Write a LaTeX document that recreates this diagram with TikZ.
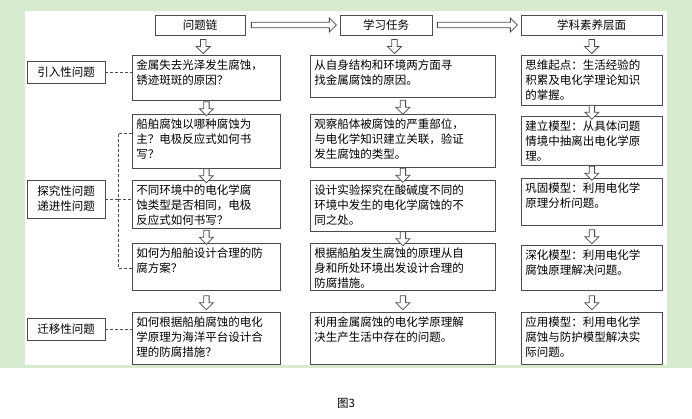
\documentclass[tikz,border=0pt]{standalone}
\usepackage{fontspec}
\setmainfont{Noto Sans CJK SC}
\usetikzlibrary{shapes.arrows}
\definecolor{panelgreen}{RGB}{214,235,208}

\begin{document}
\begin{tikzpicture}[
    x=1pt, y=-1pt,
    font=\fontsize{11.5}{15}\selectfont,
    box/.style={draw=black!70, thick, anchor=north west, align=left, inner sep=4pt, text height=10pt},
    head/.style={draw=black!70, thick, minimum height=20pt, inner sep=2pt},
    downarrow/.style={single arrow, draw=black!70, fill=white, thick, shape border rotate=270,
      minimum width=14pt, single arrow head extend=3pt, single arrow head indent=0pt, minimum height=14pt, inner sep=1.5pt},
    rightarrow/.style={single arrow, draw=black!70, fill=white, thick,
      single arrow head extend=3pt, inner sep=1.5pt},
    link/.style={densely dashed, black!70}
  ]

  % Background
  \useasboundingbox (0,0) rectangle (692,419);
  \fill[panelgreen] (0,0) rectangle (692,368);
  \fill[white] (25,11) rectangle (667,365);
  \fill[white] (0,368) rectangle (692,419);

  % Column heads
  \node[head, minimum width=90pt] (chain) at (200,25) {问题链};
  \node[head, minimum width=92pt] (task) at (386,25) {学习任务};
  \node[head, minimum width=141pt] (level) at (591.5,25) {学科素养层面};
  \node[rightarrow, minimum width=14pt, minimum height=85pt] at (292.5,25) {};
  \node[rightarrow, minimum width=14pt, minimum height=80pt] at (476,25) {};

  % Question chain
  \node[box, text width=140pt, text depth=27pt] (q1) at (132,55) {金属失去光泽发生腐蚀，\\锈迹斑斑的原因？};
  \node[box, text width=140pt, text depth=36pt] (q2) at (132,114) {船舶腐蚀以哪种腐蚀为\\主？电极反应式如何书\\写？};
  \node[box, text width=140pt, text depth=30pt] (q3) at (132,180) {不同环境中的电化学腐\\蚀类型是否相同，电极\\反应式如何书写？};
  \node[box, text width=140pt, text depth=29pt] (q4) at (132,243) {如何为船舶设计合理的防\\腐方案？};
  \node[box, text width=140pt, text depth=34pt] (q5) at (132,312) {如何根据船舶腐蚀的电化\\学原理为海洋平台设计合\\理的防腐措施？};

  % Learning tasks
  \node[box, text width=177pt, text depth=24pt] (t1) at (310,55) {从自身结构和环境两方面寻\\找金属腐蚀的原因。};
  \node[box, text width=177pt, text depth=35pt] (t2) at (310,114) {观察船体被腐蚀的严重部位，\\与电化学知识建立关联，验证\\发生腐蚀的类型。};
  \node[box, text width=177pt, text depth=33pt] (t3) at (310,180) {设计实验探究在酸碱度不同的\\环境中发生的电化学腐蚀的不\\同之处。};
  \node[box, text width=177pt, text depth=29pt] (t4) at (310,243) {根据船舶发生腐蚀的原理从自\\身和所处环境出发设计合理的\\防腐措施。};
  \node[box, text width=177pt, text depth=34pt] (t5) at (310,312) {利用金属腐蚀的电化学原理解\\决生产生活中存在的问题。};

  % Literacy levels
  \node[box, text width=133pt, text depth=32pt] (l1) at (521,55) {思维起点：生活经验的\\积累及电化学理论知识\\的掌握。};
  \node[box, text width=133pt, text depth=31pt] (l2) at (521,116) {建立模型：从具体问题\\情境中抽离出电化学原\\理。};
  \node[box, text width=133pt, text depth=29pt] (l3) at (521,178) {巩固模型：利用电化学\\原理分析问题。};
  \node[box, text width=133pt, text depth=27pt] (l4) at (521,245) {深化模型：利用电化学\\腐蚀原理解决问题。};
  \node[box, text width=133pt, text depth=34pt] (l5) at (521,312) {应用模型：利用电化学\\腐蚀与防护模型解决实\\际问题。};

  % Down arrows
  \foreach \a/\b in {chain/q1,q1/q2,q2/q3,q3/q4,q4/q5,task/t1,t1/t2,t2/t3,t3/t4,t4/t5,level/l1,l1/l2,l2/l3,l3/l4,l4/l5}
    \path (\a.south) -- (\b.north) node[downarrow, midway] {};

  % Question types
  \node[head, minimum width=78pt, minimum height=22pt] (intro) at (66,72) {引入性问题};
  \node[head, minimum width=78pt, minimum height=38pt, align=left] (deep) at (66,199) {探究性问题\\递进性问题};
  \node[head, minimum width=78pt, minimum height=22pt] (trans) at (66,329) {迁移性问题};
  \coordinate (bus) at (118,199);
  \draw[link] (intro.east) -- (q1.west |- intro.east);
  \draw[link] (trans.east) -- (q5.west |- trans.east);
  \draw[link] (deep.east) -- (bus);
  \draw[link] (q2.west |- 0,133) -| (bus) |- (q4.west |- 0,268);
  \draw[link] (bus) -- (q3.west |- bus);

  % Caption
  \node (cap) at (346,403) {图3};

\end{tikzpicture}
\end{document}
